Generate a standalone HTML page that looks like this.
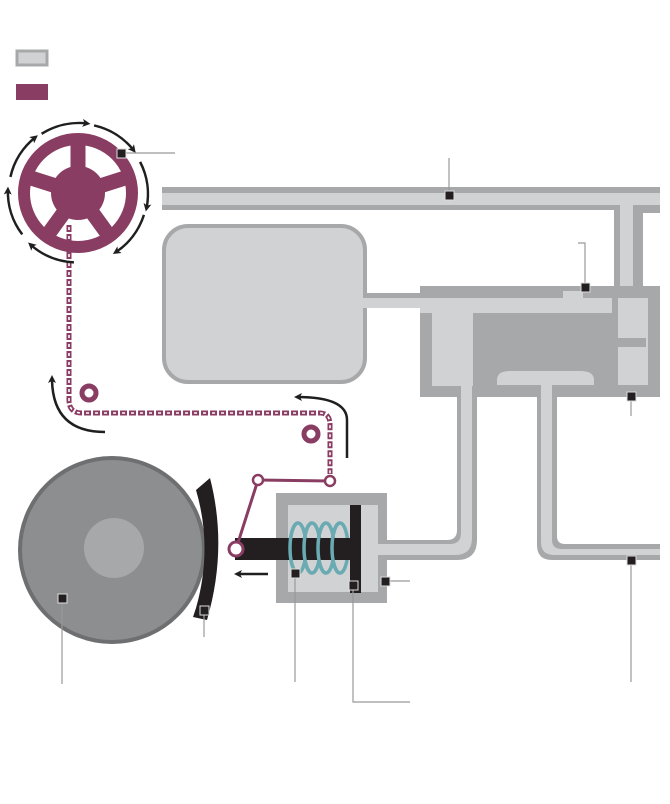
<!DOCTYPE html>
<html><head><style>html,body{margin:0;padding:0;background:#fff}svg{display:block}</style></head>
<body>
<svg width="670" height="804" viewBox="0 0 670 804" xmlns="http://www.w3.org/2000/svg">
<defs>
<marker id="ah" markerWidth="8" markerHeight="8" refX="5" refY="4" orient="auto" markerUnits="userSpaceOnUse">
<path d="M0,0 L8,4 L0,8 L2,4 Z" fill="#1f1f1f"/></marker>
</defs>
<!-- legend -->
<rect x="17" y="51" width="30" height="14" fill="#d1d2d4" stroke="#a7a8aa" stroke-width="3"/>
<rect x="16" y="84" width="32" height="16" fill="#8a3d62"/>

<!-- top pipe -->
<rect x="162" y="187" width="498" height="23" fill="#a7a8aa"/>
<rect x="162" y="193" width="498" height="12" fill="#d1d2d4"/>
<path d="M614,205 V300 H640 V205 Z" fill="#a7a8aa"/>
<rect x="620" y="200" width="13" height="110" fill="#d1d2d4"/>
<path d="M638,215 Q638,208 645,208 H660 V300 H638 Z" fill="#a7a8aa"/>
<rect x="643" y="213" width="17" height="90" fill="#fff"/>

<!-- reservoir -->
<rect x="164" y="226" width="201" height="156" rx="24" fill="#d1d2d4" stroke="#a7a8aa" stroke-width="4"/>
<rect x="363" y="293" width="60" height="15" fill="#a7a8aa"/>
<rect x="362" y="298" width="62" height="10" fill="#d1d2d4"/>

<!-- master cylinder -->
<rect x="420" y="286" width="240" height="111" fill="#a7a8aa"/>
<rect x="420" y="298" width="192" height="15" fill="#d1d2d4"/>
<rect x="563" y="291" width="20" height="8" fill="#d1d2d4"/>
<rect x="432" y="313" width="41" height="73" fill="#d1d2d4"/>
<rect x="618" y="298" width="30" height="87" fill="#d1d2d4"/>
<rect x="618" y="338" width="28" height="9" fill="#a7a8aa"/>
<rect x="473" y="313" width="138" height="72" fill="#a7a8aa"/>
<path d="M497,385 V380 Q497,371 510,371 H580 Q594,371 594,380 V385 Z" fill="#d1d2d4"/>
<rect x="473" y="385" width="138" height="12" fill="#a7a8aa"/>
<path d="M457,397 V530 Q457,540 447,540 H385 V560 H457 Q477,560 477,540 V397 Z" fill="#a7a8aa"/>
<path d="M461,380 V533 Q461,544 450,544 H383 V555 H455 Q472,555 472,538 V380 Z" fill="#d1d2d4"/>
<path d="M537,397 V545 Q537,560 552,560 H660 V544 H565 Q557,544 557,536 V397 Z" fill="#a7a8aa"/>
<path d="M541,385 V542 Q541,555 554,555 H660 V549 H562 Q552,549 552,540 V385 Z" fill="#d1d2d4"/>

<!-- wheel cylinder -->
<rect x="276" y="493" width="111" height="110" fill="#a7a8aa"/>
<rect x="288" y="505" width="90" height="87" fill="#d1d2d4"/>
<rect x="376" y="544" width="12" height="11" fill="#d1d2d4"/>
<g fill="none" stroke="#6aabb3" stroke-width="3.5">
<ellipse cx="298" cy="548" rx="8" ry="25"/><ellipse cx="312" cy="548" rx="8" ry="25"/>
<ellipse cx="326" cy="548" rx="8" ry="25"/><ellipse cx="340" cy="548" rx="8" ry="25"/>
</g>
<rect x="235" y="538" width="118" height="22" fill="#231f20"/>
<rect x="350" y="505" width="11" height="88" fill="#231f20"/>
<g fill="none" stroke="#6aabb3" stroke-width="3.5">
<path d="M298,523 A8,25 0 0 0 298,573"/><path d="M312,523 A8,25 0 0 0 312,573"/>
<path d="M326,523 A8,25 0 0 0 326,573"/><path d="M340,523 A8,25 0 0 0 340,573"/>
</g>

<!-- drum -->
<circle cx="112" cy="550" r="92" fill="#8d8e90" stroke="#6e6f71" stroke-width="4"/>
<circle cx="114" cy="548" r="30" fill="#a7a8aa"/>
<path d="M196,490 Q213,548 196,608 L193,617 L207,620 Q228,548 210,478 Z" fill="#231f20"/>

<line x1="268" y1="574" x2="237" y2="574" stroke="#1f1f1f" stroke-width="2.5" marker-end="url(#ah)"/>

<!-- linkage -->
<g stroke="#8a3d62" stroke-width="3" fill="none">
<line x1="236" y1="549" x2="258" y2="480"/>
<line x1="258" y1="480" x2="330" y2="481"/>
</g>
<circle cx="236" cy="549" r="7" fill="#fff" stroke="#8a3d62" stroke-width="3"/>
<circle cx="258" cy="480" r="5" fill="#fff" stroke="#8a3d62" stroke-width="2.5"/>
<circle cx="330" cy="481" r="5" fill="#fff" stroke="#8a3d62" stroke-width="2.5"/>

<!-- chain -->
<path d="M69,225 V400 Q69,413 82,413 H320 Q330,413 330,425 V474" fill="none" stroke="#8a3d62" stroke-width="5" stroke-dasharray="7 2"/>
<path d="M69,225 V400 Q69,413 82,413 H320 Q330,413 330,425 V474" fill="none" stroke="#fff" stroke-width="1.6" stroke-dasharray="3 6" stroke-dashoffset="-2"/>
<circle cx="89" cy="393" r="7" fill="none" stroke="#8a3d62" stroke-width="5"/>
<circle cx="311" cy="434" r="7" fill="none" stroke="#8a3d62" stroke-width="5"/>

<path d="M105,432 Q52,432 52,378" fill="none" stroke="#1f1f1f" stroke-width="2.5" marker-end="url(#ah)"/>
<path d="M347,458 V420 Q347,397 297,397" fill="none" stroke="#1f1f1f" stroke-width="2.5" marker-end="url(#ah)"/>

<!-- wheel -->
<g transform="translate(78,193)">
<circle r="54" fill="none" stroke="#8a3d62" stroke-width="12"/>
<g stroke="#8a3d62" stroke-width="15" stroke-linecap="round">
<line x1="0" y1="0" x2="0" y2="-50"/>
<line x1="0" y1="0" x2="47" y2="-15"/>
<line x1="0" y1="0" x2="29" y2="40"/>
<line x1="0" y1="0" x2="-29" y2="40"/>
<line x1="0" y1="0" x2="-47" y2="-15"/>
</g>
<circle r="27" fill="#8a3d62"/>
<g fill="none" stroke="#1f1f1f" stroke-width="2.5">
<path d="M-8,-69 A70,70 0 0 1 38,-59" marker-end="url(#ah)" transform="rotate(-25)"/>
<path d="M-8,-69 A70,70 0 0 1 38,-59" marker-end="url(#ah)" transform="rotate(20)"/>
<path d="M-8,-69 A70,70 0 0 1 38,-59" marker-end="url(#ah)" transform="rotate(70)"/>
<path d="M-8,-69 A70,70 0 0 1 38,-59" marker-end="url(#ah)" transform="rotate(115)"/>
<path d="M-8,-69 A70,70 0 0 1 38,-59" marker-end="url(#ah)" transform="rotate(190)"/>
<path d="M-8,-69 A70,70 0 0 1 38,-59" marker-end="url(#ah)" transform="rotate(240)"/>
<path d="M-8,-69 A70,70 0 0 1 38,-59" marker-end="url(#ah)" transform="rotate(290)"/>
</g>
</g>

<!-- callouts -->
<g stroke="#999" stroke-width="1.2" fill="none">
<line x1="121" y1="153" x2="175" y2="153"/>
<line x1="449" y1="195" x2="449" y2="158"/>
<polyline points="585,287 585,243 578,243"/>
<line x1="631" y1="396" x2="631" y2="416"/>
<line x1="385" y1="581" x2="410" y2="581"/>
<line x1="295" y1="573" x2="295" y2="682"/>
<polyline points="353,585 353,702 410,702"/>
<line x1="204" y1="610" x2="204" y2="637"/>
<line x1="62" y1="598" x2="62" y2="684"/>
<line x1="631" y1="560" x2="631" y2="682"/>
</g>
<g fill="#231f20" stroke="#ddd" stroke-width="1">
<rect x="117" y="149" width="9" height="9"/>
<rect x="445" y="191" width="9" height="9"/>
<rect x="581" y="283" width="9" height="9"/>
<rect x="627" y="392" width="9" height="9"/>
<rect x="381" y="577" width="9" height="9"/>
<rect x="291" y="569" width="9" height="9"/>
<rect x="349" y="581" width="9" height="9"/>
<rect x="200" y="606" width="9" height="9"/>
<rect x="58" y="594" width="9" height="9"/>
<rect x="627" y="556" width="9" height="9"/>
</g>
</svg>
</body></html>
